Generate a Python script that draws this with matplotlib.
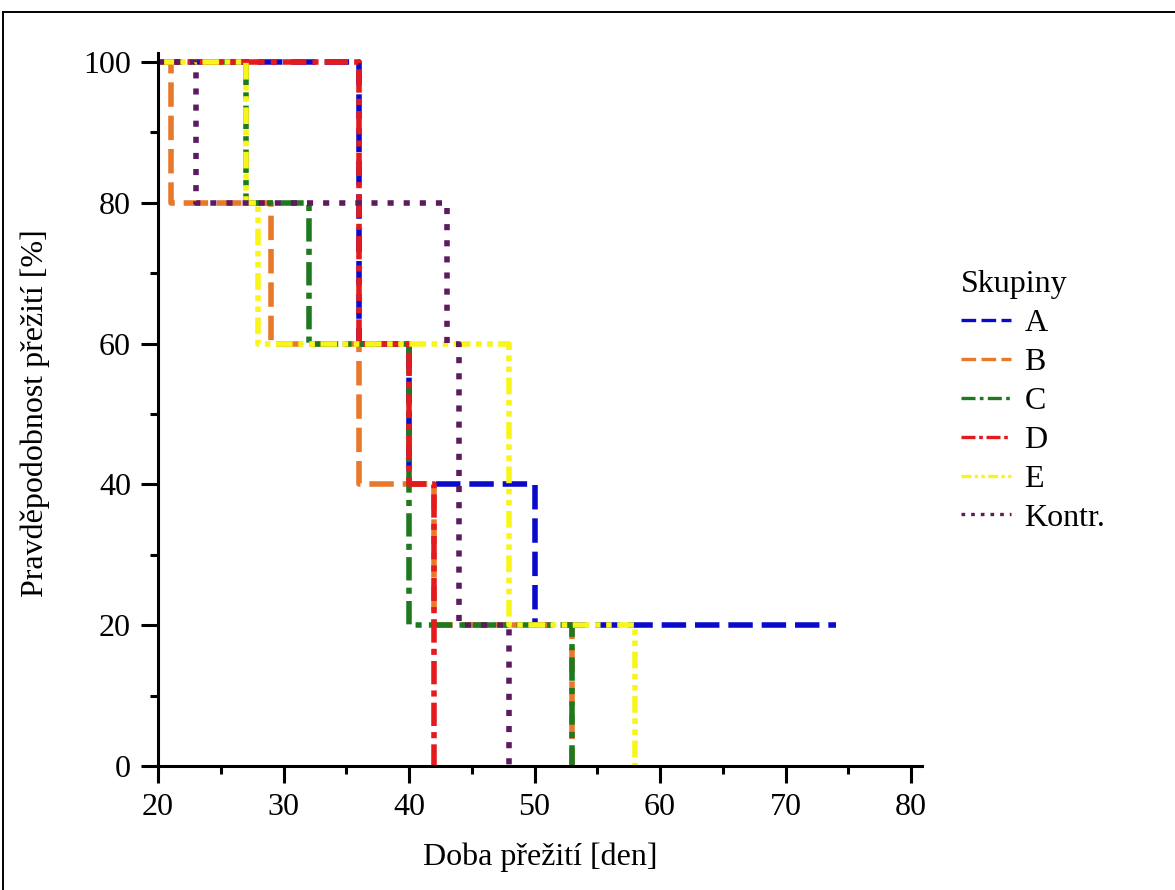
import matplotlib
matplotlib.use("Agg")
import matplotlib.pyplot as plt
from matplotlib.lines import Line2D
from matplotlib.patches import Rectangle
from matplotlib.ticker import MultipleLocator

plt.rcParams['font.family'] = ['Liberation Serif', 'DejaVu Serif']

# survival curves (time in days, survival in %), step-post
groups = ["A", "B", "C", "D", "E", "Kontr."]
a_t = [20, 36, 40, 50, 74]
a_s = [100, 60, 40, 20, 20]
b_t = [20, 21, 29, 36, 42, 53]
b_s = [100, 80, 60, 40, 20, 0]
c_t = [20, 27, 32, 40, 53]
c_s = [100, 80, 60, 20, 0]
d_t = [20, 36, 40, 42]
d_s = [100, 60, 40, 0]
e_t = [20, 27, 28, 48, 58]
e_s = [100, 80, 60, 20, 0]
k_t = [20, 23, 43, 44, 48]
k_s = [100, 80, 60, 20, 0]

times = [a_t, b_t, c_t, d_t, e_t, k_t]
surv = [a_s, b_s, c_s, d_s, e_s, k_s]

colors = ["#0a0acc", "#e8782a", "#1f7a1f", "#e31b1f", "#f7f51a", "#5e1a5e"]
dashes = [(4.4, 1.6), (4.4, 1.6), (4.2, 1.3, 1.1, 1.3), (4.2, 1.1, 1.1, 1.1),
          (3.0, 1.0, 1.0, 1.0, 1.0, 1.0), (1.1, 1.8)]

W, H = 1175, 890
fig = plt.figure(figsize=(W / 100, H / 100), dpi=100)

# axes placement in pixels
x0, x1 = 158, 922
y0, y1 = 766, 53
ax = fig.add_axes([x0 / W, 1 - y0 / H, (x1 - x0) / W, (y0 - y1) / H])

lw = 4.0
for t, s, c, d in zip(times, surv, colors, dashes):
    ax.plot(t, s, drawstyle='steps-post', color=c, lw=lw, dashes=d)

px_x = (911 - 158) / 60.0
px_y = (766 - 62) / 100.0
ax.set_xlim(20, 20 + (x1 - x0) / px_x)
ax.set_ylim(0, (y0 - y1) / px_y)

ax.xaxis.set_minor_locator(MultipleLocator(5))
ax.yaxis.set_minor_locator(MultipleLocator(10))
ax.set_xticks([20, 30, 40, 50, 60, 70, 80])
ax.set_yticks([0, 20, 40, 60, 80, 100])

for side in ['top', 'right']:
    ax.spines[side].set_visible(False)
for side in ['left', 'bottom']:
    ax.spines[side].set_linewidth(2.2)

ax.tick_params(which='major', direction='out', length=12.5, width=2.2, labelsize=23, pad=7)
ax.tick_params(which='minor', direction='out', length=6, width=2.2)

fig.text(540 / W, 1 - 857 / H, "Doba přežití [den]", ha='center', va='center', fontsize=23)
fig.text(35 / W, 1 - 413 / H, "Pravděpodobnost přežití [%]", ha='center', va='center',
         rotation=90, fontsize=23)

handles = [Line2D([], [], color=c, lw=2.4, dashes=d) for c, d in zip(colors, dashes)]
leg = fig.legend(handles, groups, title="Skupiny", loc='upper left',
                 bbox_to_anchor=(945 / W, 1 - 254 / H), frameon=False, fontsize=23,
                 title_fontsize=23, handlelength=1.57, handletextpad=0.42,
                 labelspacing=0.3, borderpad=0, alignment='left')

# thin frame around the picture
fig.patches.append(Rectangle((3 / W, -0.1), 1.2, 1 - 12 / H + 0.1, transform=fig.transFigure,
                             fill=False, lw=1.4, edgecolor='black'))

fig.savefig("out.png", dpi=100)
